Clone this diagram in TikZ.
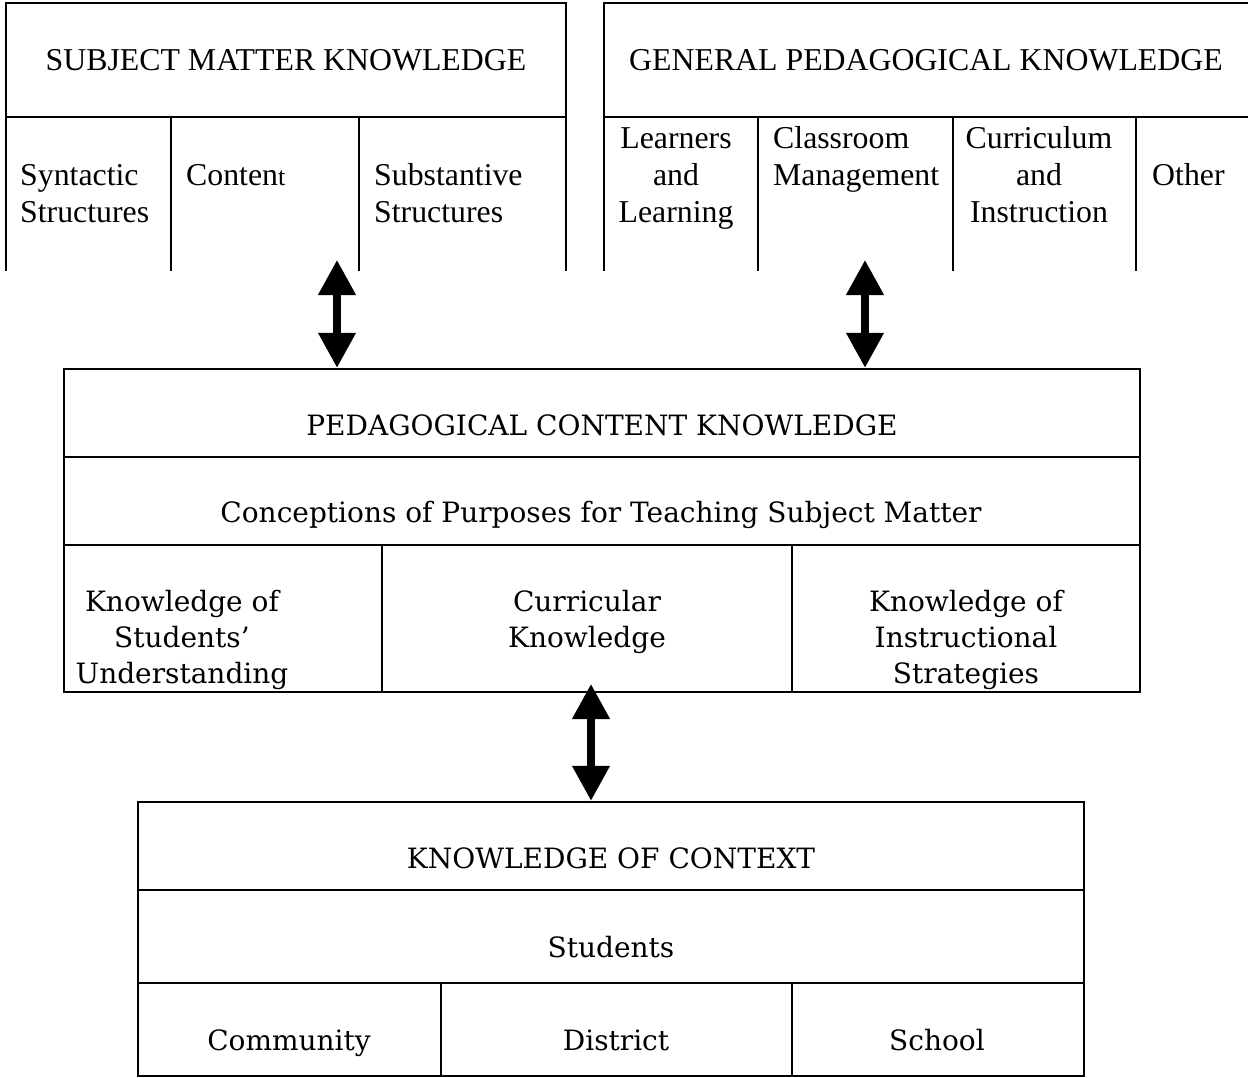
\documentclass[tikz,border=0pt]{standalone}
\usepackage{fontspec}
\setmainfont{Liberation Serif}
\newfontfamily\geo{DejaVu Serif}
\usetikzlibrary{arrows.meta}
\begin{document}
\begin{tikzpicture}[x=1pt,y=-1pt,
  ln/.style={line width=2.5pt, line cap=rect},
  box/.style={draw, line width=2.5pt, inner sep=0pt},
  tm/.style={font=\fontsize{31.8}{37}\selectfont, inner sep=0pt, anchor=base},
  tml/.style={tm, anchor=base west, align=left},
  tmc/.style={tm, align=center},
  gg/.style={font=\geo\fontsize{28}{36}\selectfont, inner sep=0pt, anchor=base, align=center},
  dbl/.style={line width=7.5pt, {Triangle[width=36pt,length=35pt]}-{Triangle[width=36pt,length=35pt]}}
]
\useasboundingbox (0,0) rectangle (1248,1077);
% ---------- top-left box: subject matter knowledge
\draw[ln] (6,270) -- (6,3) -- (566,3) -- (566,270);
\draw[ln] (6,117) -- (566,117);
\draw[ln] (171,117) -- (171,270);
\draw[ln] (359,117) -- (359,270);
\node[tm] (smk) at (286,70) {SUBJECT MATTER KNOWLEDGE};
\node[tml] (syn) at (20,222) {Syntactic\\Structures};
\node[tml] (con) at (186,185) {Conten{\fontsize{26}{37}\selectfont t}};
\node[tml] (sub) at (374,222) {Substantive\\Structures};
% ---------- top-right box: general pedagogical knowledge
\draw[ln] (604,270) -- (604,3) -- (1252,3);
\draw[ln] (604,117) -- (1252,117);
\draw[ln] (758,117) -- (758,270);
\draw[ln] (953,117) -- (953,270);
\draw[ln] (1136,117) -- (1136,270);
\node[tm] (gpk) at (926,70) {GENERAL PEDAGOGICAL KNOWLEDGE};
\node[tmc] (lal) at (676,222) {Learners\\and\\Learning};
\node[tml] (cm) at (773,185) {Classroom\\Management};
\node[tmc] (cai) at (1039,222) {Curriculum\\and\\Instruction};
\node[tml] (oth) at (1152,185) {Other};
% ---------- middle box: pedagogical content knowledge
\node[box, minimum width=1076pt, minimum height=323pt] (pck) at (602,530.5) {};
\draw[ln] (64,457) -- (1140,457);
\draw[ln] (64,545) -- (1140,545);
\draw[ln] (382,545) -- (382,692);
\draw[ln] (792,545) -- (792,692);
\node[gg] (pckt) at (602,435) {PEDAGOGICAL CONTENT KNOWLEDGE};
\node[gg] (cpt) at (601,522) {Conceptions of Purposes for Teaching Subject Matter};
\node[gg] (kss) at (182,683) {Knowledge of\\Students’\\Understanding};
\node[gg] (ck) at (587,647) {Curricular\\Knowledge};
\node[gg] (kis) at (966,683) {Knowledge of\\Instructional\\Strategies};
% ---------- bottom box: knowledge of context
\node[box, minimum width=946pt, minimum height=274pt] (koc) at (611,939) {};
\draw[ln] (138,890) -- (1084,890);
\draw[ln] (138,983) -- (1084,983);
\draw[ln] (441,983) -- (441,1076);
\draw[ln] (792,983) -- (792,1076);
\node[gg] (koct) at (611,868) {KNOWLEDGE OF CONTEXT};
\node[gg] (stu) at (611,957) {Students};
\node[gg] (com) at (289,1050) {Community};
\node[gg] (dis) at (616,1050) {District};
\node[gg] (sch) at (937,1050) {School};
% ---------- arrows
\coordinate (a1) at (337,260);
\coordinate (a2) at (865,260);
\coordinate (a3) at (591,684);
\draw[dbl] (a1) -- (a1 |- pck.north);
\draw[dbl] (a2) -- (a2 |- pck.north);
\draw[dbl] (a3) -- (a3 |- koc.north);
\end{tikzpicture}
\end{document}
